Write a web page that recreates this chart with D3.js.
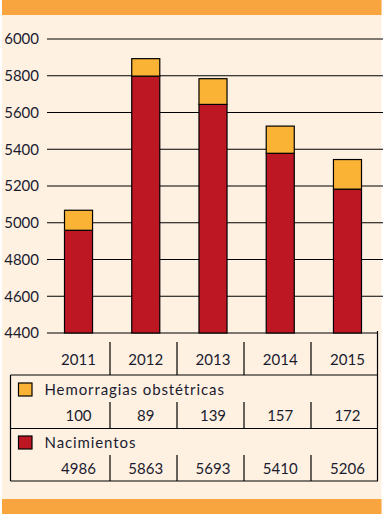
<!DOCTYPE html>
<html>
<head>
<meta charset="utf-8">
<script src="https://cdn.jsdelivr.net/npm/d3@7"></script>
<style>
  body { margin: 0; background: #fff; }
  svg { display: block; }
  text { font-family: Lato, "Open Sans", sans-serif; fill: #1b1b30; font-size: 15px; }
</style>
</head>
<body>
<div id="chart"></div>
<script>
// data
var years = ["2011", "2012", "2013", "2014", "2015"];
// table values (as printed)
var hemorragias = [100, 89, 139, 157, 172];
var nacimientos = [4986, 5863, 5693, 5410, 5206];
// bar heights as drawn in the chart
var barNacimientos = [4959, 5798, 5644, 5378, 5183];
var barHemorragias = [109, 95, 140, 148, 161];
var yTicks = [4400, 4600, 4800, 5000, 5200, 5400, 5600, 5800, 6000];
var seriesNames = ["Hemorragias obstétricas", "Nacimientos"];

var W = 383, H = 515;
var cream = "#fef1e1", orange = "#f8a43f", yellow = "#fbb336", red = "#bd1723";

var svg = d3.select("#chart").append("svg")
    .attr("width", W)
    .attr("height", H);

// background + orange bands
svg.append("rect").attr("x", 2).attr("y", 0).attr("width", 379.5).attr("height", 514).attr("fill", cream);
svg.append("rect").attr("x", 2).attr("y", 0).attr("width", 379.5).attr("height", 15).attr("fill", orange);
svg.append("rect").attr("x", 2).attr("y", 499).attr("width", 379.5).attr("height", 15).attr("fill", orange);

// scales
var y = d3.scaleLinear().domain([4400, 6000]).range([333, 39]);
var x = d3.scaleBand().domain(years).range([45, 381]).paddingInner(0.583).paddingOuter(0.29);
var col = d3.scaleBand().domain(years).range([43, 378]);

// gridlines + y labels
var grid = svg.append("g");
grid.selectAll("line")
    .data(yTicks)
    .enter().append("line")
    .attr("x1", 47)
    .attr("x2", function(d) { return d === 4400 ? 377 : 383; })
    .attr("y1", function(d) { return y(d); })
    .attr("y2", function(d) { return y(d); })
    .attr("stroke", "#000")
    .attr("stroke-width", 1.2);
grid.selectAll("text")
    .data(yTicks)
    .enter().append("text")
    .attr("x", 39)
    .attr("y", function(d) { return y(d); })
    .attr("dy", "0.35em")
    .attr("text-anchor", "end")
    .text(function(d) { return d; });

// stacked bars
var bars = svg.append("g");
years.forEach(function(yr, i) {
    var bx = x(yr);
    var nTop = y(barNacimientos[i]);
    var hTop = y(barNacimientos[i] + barHemorragias[i]);
    bars.append("rect")
        .attr("x", bx).attr("y", nTop)
        .attr("width", x.bandwidth()).attr("height", y(4400) - nTop)
        .attr("fill", red).attr("stroke", "#000").attr("stroke-width", 1.2);
    bars.append("rect")
        .attr("x", bx).attr("y", hTop)
        .attr("width", x.bandwidth()).attr("height", nTop - hTop)
        .attr("fill", yellow).attr("stroke", "#000").attr("stroke-width", 1.2);
});

// data table
var table = svg.append("g")
    .attr("stroke", "#000")
    .attr("stroke-width", 1.2);

// right border of plot + table
table.append("line").attr("x1", 377.5).attr("x2", 377.5).attr("y1", 331).attr("y2", 481);
// horizontal rules
[375, 428.5, 481].forEach(function(yy) {
    table.append("line").attr("x1", 10.5).attr("x2", 378).attr("y1", yy).attr("y2", yy);
});
// left border
table.append("line").attr("x1", 10.5).attr("x2", 10.5).attr("y1", 375).attr("y2", 481);

// column dividers for each row band
var dividerRows = [[342, 375], [402, 428.5], [455, 481]];
dividerRows.forEach(function(r) {
    table.selectAll(null)
        .data(years.slice(1))
        .enter().append("line")
        .attr("x1", function(d) { return col(d); })
        .attr("x2", function(d) { return col(d); })
        .attr("y1", r[0]).attr("y2", r[1]);
});

function cx(d) { return x(d) + x.bandwidth() / 2; }

// year labels
svg.append("g").selectAll("text")
    .data(years)
    .enter().append("text")
    .attr("x", cx)
    .attr("y", 359.5)
    .attr("dy", "0.35em")
    .attr("text-anchor", "middle")
    .text(function(d) { return d; });

// legend rows + values
var rows = [
    { name: seriesNames[0], color: yellow, values: hemorragias, ly: 389.5, vy: 416 },
    { name: seriesNames[1], color: red, values: nacimientos, ly: 442.5, vy: 468.5 }
];
rows.forEach(function(r) {
    svg.append("rect")
        .attr("x", 18.5).attr("y", r.ly - 6.5)
        .attr("width", 13.5).attr("height", 13)
        .attr("fill", r.color).attr("stroke", "#000").attr("stroke-width", 1.2);
    svg.append("text")
        .attr("x", 44.5).attr("y", r.ly)
        .attr("dy", "0.35em")
        .style("letter-spacing", "0.9px")
        .text(r.name);
    svg.append("g").selectAll("text")
        .data(r.values)
        .enter().append("text")
        .attr("x", function(d, i) { return cx(years[i]); })
        .attr("y", r.vy)
        .attr("dy", "0.35em")
        .attr("text-anchor", "middle")
        .text(function(d) { return d; });
});
</script>
</body>
</html>
